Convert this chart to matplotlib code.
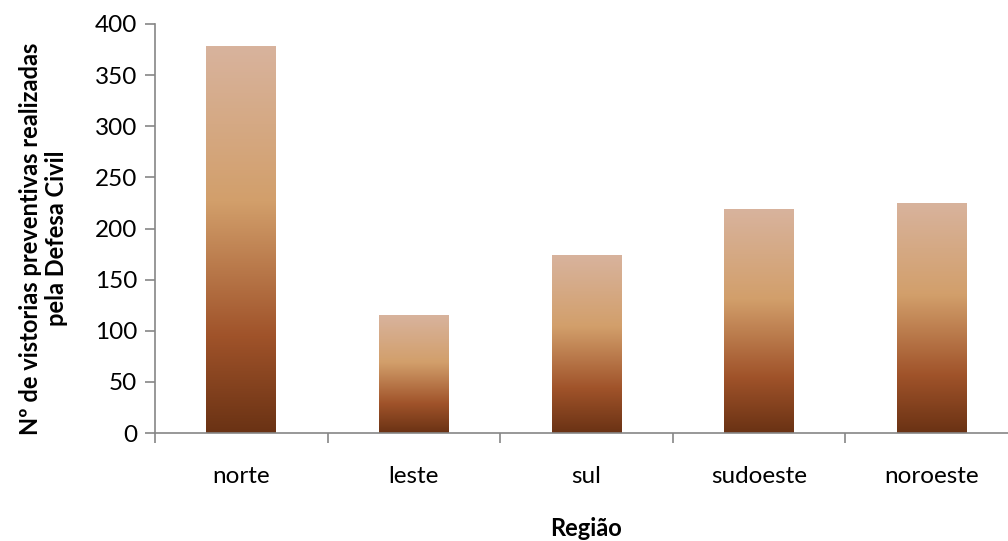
import numpy as np
import matplotlib.pyplot as plt
from matplotlib.colors import LinearSegmentedColormap

regioes = ["norte", "leste", "sul", "sudoeste", "noroeste"]
vistorias = [378, 115, 174, 219, 225]

plt.rcParams['font.family'] = ['Lato', 'DejaVu Sans']

# gradient from bottom (dark) to top (light)
grad = LinearSegmentedColormap.from_list(
    "brown", [(0.0, "#6a3214"), (0.25, "#a0532a"), (0.6, "#d29f6b"), (1.0, "#d8b39d")])

fig = plt.figure(figsize=(10.08, 5.41), dpi=100)
ax = fig.add_axes([155 / 1008, 108 / 541, 863 / 1008, 409 / 541])

x = np.arange(len(regioes))
bars = ax.bar(x, vistorias, width=0.405, color="none", edgecolor="none")
g = np.linspace(0, 1, 256).reshape(-1, 1)
for b in bars:
    im = ax.imshow(g, cmap=grad, origin="lower", aspect="auto",
                   extent=[b.get_x(), b.get_x() + b.get_width(), 0, b.get_height()],
                   zorder=2)
    im.set_clip_path(b)

ax.set_xlim(-0.5, len(regioes) - 0.5)
ax.set_ylim(0, 400)
ax.set_yticks(np.arange(0, 401, 50))

ax.set_xticks(np.arange(-0.5, len(regioes), 1.0))
ax.set_xticklabels([])
ax.set_xticks(x, minor=True)
ax.set_xticklabels(regioes, minor=True)
ax.tick_params(axis="x", which="minor", length=0, pad=24, labelsize=17.5)
ax.tick_params(axis="x", which="major", length=7, color="#868686", width=1.2)
ax.tick_params(axis="y", length=7, color="#868686", width=1.2, labelsize=17.5, pad=6)

for s in ["top", "right"]:
    ax.spines[s].set_visible(False)
for s in ["left", "bottom"]:
    ax.spines[s].set_color("#868686")
    ax.spines[s].set_linewidth(1.2)

ax.set_ylabel("Nº de vistorias preventivas realizadas\npela Defesa Civil",
              fontsize=17, fontweight="bold", linespacing=1.15)
ax.yaxis.set_label_coords(-0.101, 0.475)
fig.text(586 / 1008, 13 / 541, "Região", fontsize=17, fontweight="bold",
         ha="center", va="center")

fig.savefig("out.png", dpi=100)
